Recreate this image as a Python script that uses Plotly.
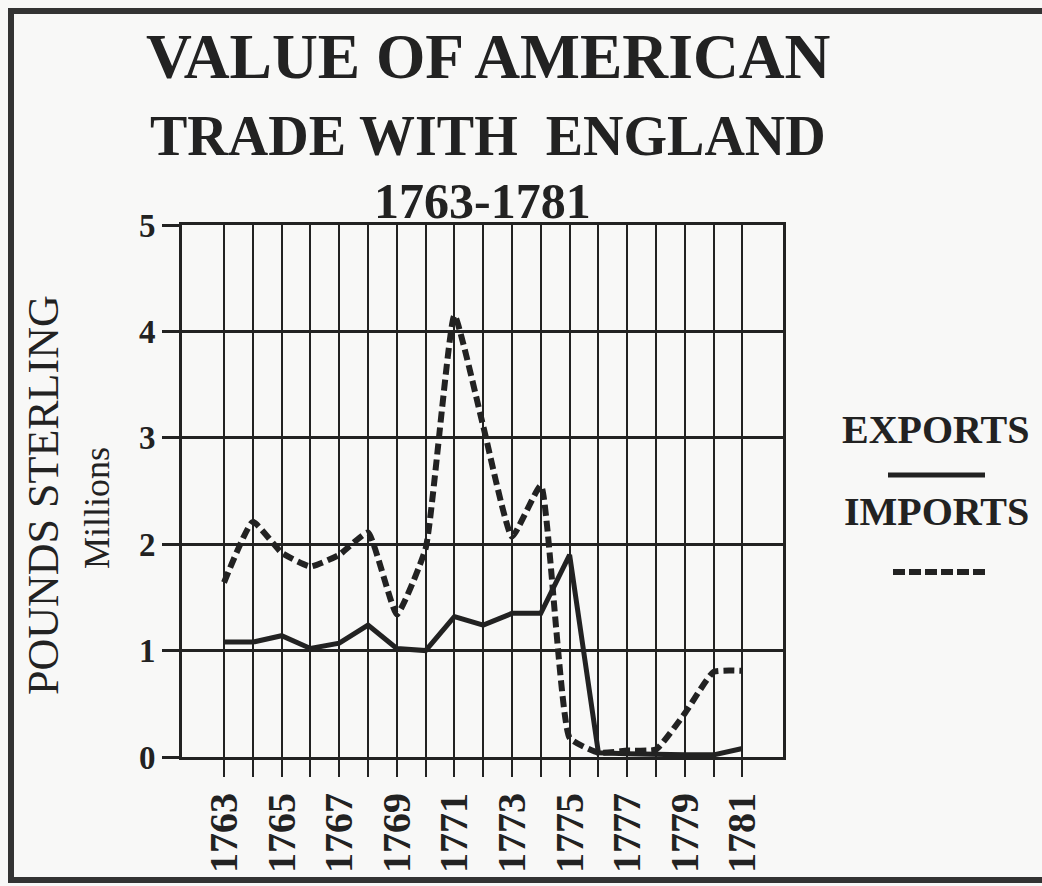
import plotly.graph_objects as go

# ---- data (millions of pounds sterling) ----
years = list(range(1763, 1782))
exports = [1.08, 1.08, 1.14, 1.02, 1.07, 1.24, 1.02, 1.00, 1.32, 1.24,
           1.35, 1.35, 1.90, 0.04, 0.03, 0.02, 0.02, 0.02, 0.08]
imports = [1.64, 2.21, 1.92, 1.79, 1.90, 2.11, 1.34, 1.96, 4.15, 3.11,
           2.07, 2.55, 0.18, 0.04, 0.06, 0.07, 0.41, 0.80, 0.81]
x_labels = [str(y) if (y - 1763) % 2 == 0 else "" for y in years]
y_ticks = [0, 1, 2, 3, 4, 5]

title_lines = ["VALUE OF AMERICAN", "TRADE WITH  ENGLAND", "1763-1781"]

W, H = 1042, 886
PL, PR, PT, PB = 182, 783, 225, 757
INK = "#222222"
SERIF = "Liberation Serif, Times New Roman, serif"


def px(x):
    return (x - PL) / (PR - PL)


def py(y):
    return (PB - y) / (PB - PT)


fig = go.Figure()
fig.add_trace(go.Scatter(x=years, y=exports, mode="lines", name="EXPORTS",
                         line=dict(color=INK, width=5), showlegend=False))
fig.add_trace(go.Scatter(x=years, y=imports, mode="lines", name="IMPORTS",
                         line=dict(color=INK, width=6, dash="11px,5px",
                                   shape="spline", smoothing=0.4),
                         showlegend=False))

ann = []
def text(t, x, y, size, bold=True, angle=0):
    ann.append(dict(text=t, x=px(x), y=py(y), xref="paper", yref="paper",
                    xanchor="center", yanchor="middle", showarrow=False,
                    textangle=angle,
                    font=dict(family=SERIF, size=size, color=INK,
                              weight="bold" if bold else "normal")))

text(title_lines[0], 488, 57, 63.5)
text(title_lines[1], 488, 136, 56)
text(title_lines[2], 482, 201, 50)
text("POUNDS STERLING", 43, 495, 44, bold=False, angle=-90)
text("Millions", 97, 508, 36, bold=False, angle=-90)
text("EXPORTS", 936, 429, 40)
text("IMPORTS", 936, 511, 40)

shapes = []
# legend samples
shapes.append(dict(type="line", xref="paper", yref="paper",
                   x0=px(888), x1=px(985), y0=py(475), y1=py(475),
                   line=dict(color=INK, width=5)))
shapes.append(dict(type="line", xref="paper", yref="paper",
                   x0=px(893), x1=px(985), y0=py(572), y1=py(572),
                   line=dict(color=INK, width=6, dash="12px,4px")))
# outer frame of the page
frame = dict(color="#333333", width=6)
shapes.append(dict(type="line", xref="paper", yref="paper",
                   x0=px(11), x1=px(11), y0=py(8), y1=py(883), line=frame))
shapes.append(dict(type="line", xref="paper", yref="paper",
                   x0=px(8), x1=px(1060), y0=py(11), y1=py(11), line=frame))
shapes.append(dict(type="line", xref="paper", yref="paper",
                   x0=px(8), x1=px(1060), y0=py(880), y1=py(880), line=frame))

fig.update_layout(
    width=W, height=H,
    margin=dict(l=PL, r=W - PR, t=PT, b=H - PB, pad=0),
    paper_bgcolor="#f8f8f7", plot_bgcolor="#f8f8f7",
    annotations=ann, shapes=shapes,
    xaxis=dict(range=[1761.54, 1782.41], tickvals=years, ticktext=x_labels,
               showgrid=True, gridcolor=INK, gridwidth=2,
               showline=True, linecolor=INK, linewidth=3, mirror=True,
               ticks="outside", ticklen=17, tickwidth=2, tickcolor=INK,
               tickangle=-90, zeroline=False,
               tickfont=dict(family=SERIF, size=40, color=INK, weight="bold")),
    yaxis=dict(range=[0, 5], tickvals=y_ticks,
               showgrid=True, gridcolor=INK, gridwidth=2.5,
               showline=True, linecolor=INK, linewidth=3, mirror=True,
               ticks="outside", ticklen=17, tickwidth=2.5, tickcolor=INK,
               zeroline=False,
               tickfont=dict(family=SERIF, size=33, color=INK, weight="bold")),
)

fig.write_html("out.html",
               config={"displayModeBar": False},
               post_script="document.body.style.margin='0';"
                           "document.body.style.overflow='hidden';")
